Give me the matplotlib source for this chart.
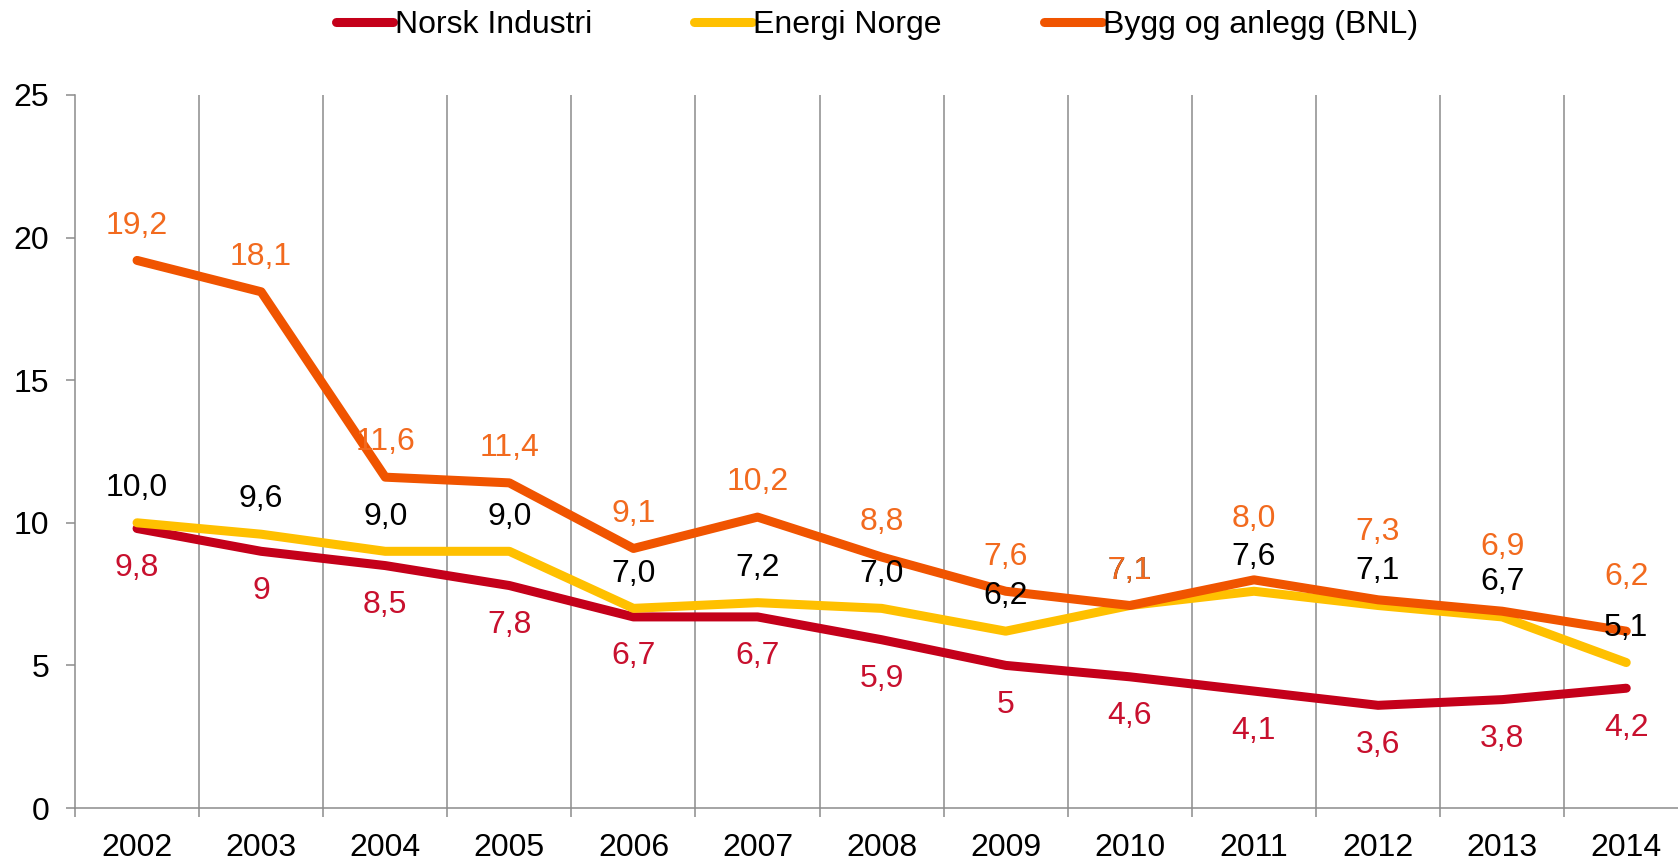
import numpy as np
import matplotlib
matplotlib.use("Agg")
import matplotlib.pyplot as plt

plt.rcParams['font.family'] = ['Liberation Sans', 'DejaVu Sans']

# Data
years = ["2002", "2003", "2004", "2005", "2006", "2007", "2008",
         "2009", "2010", "2011", "2012", "2013", "2014"]
norsk_industri = [9.8, 9.0, 8.5, 7.8, 6.7, 6.7, 5.9, 5.0, 4.6, 4.1, 3.6, 3.8, 4.2]
norsk_labels = ["9,8", "9", "8,5", "7,8", "6,7", "6,7", "5,9", "5", "4,6", "4,1", "3,6", "3,8", "4,2"]
energi_norge = [10.0, 9.6, 9.0, 9.0, 7.0, 7.2, 7.0, 6.2, 7.1, 7.6, 7.1, 6.7, 5.1]
energi_labels = ["10,0", "9,6", "9,0", "9,0", "7,0", "7,2", "7,0", "6,2", "7,1", "7,6", "7,1", "6,7", "5,1"]
bnl = [19.2, 18.1, 11.6, 11.4, 9.1, 10.2, 8.8, 7.6, 7.1, 8.0, 7.3, 6.9, 6.2]
bnl_labels = ["19,2", "18,1", "11,6", "11,4", "9,1", "10,2", "8,8", "7,6", "7,1", "8,0", "7,3", "6,9", "6,2"]

# label offsets in points (placement of the data labels)
bnl_offsets = [25, 25, 25, 25, 25, 25, 25, 25, 25, 44, 49, 46, 39]

RED = '#C4001A'
YELLOW = '#FFC000'
ORANGE = '#F05400'
GRID = '#8C8C8C'
FS = 23      # data labels
FS_AX = 23   # ticks and legend

fig = plt.figure(figsize=(16.78, 8.6), dpi=100)
ax = fig.add_axes([75 / 1678, 52 / 860, 13 * 124.1 / 1678, 713 / 860])

x = np.arange(len(years))
l1, = ax.plot(x, norsk_industri, color=RED, lw=6.5, solid_capstyle='round', zorder=3,
              label="Norsk Industri")
l2, = ax.plot(x, energi_norge, color=YELLOW, lw=6.5, solid_capstyle='round', zorder=4,
              label="Energi Norge")
l3, = ax.plot(x, bnl, color=ORANGE, lw=6.5, solid_capstyle='round', zorder=5,
              label="Bygg og anlegg (BNL)")

for i in range(len(years)):
    ax.annotate(norsk_labels[i], (x[i], norsk_industri[i]), xytext=(0, -28.5),
                textcoords='offset points', ha='center', va='center',
                fontsize=FS, color='#C8102E', zorder=6)
    ax.annotate(energi_labels[i], (x[i], energi_norge[i]), xytext=(0, 25),
                textcoords='offset points', ha='center', va='center',
                fontsize=FS, color='black', zorder=6)
    ax.annotate(bnl_labels[i], (x[i], bnl[i]), xytext=(0, bnl_offsets[i]),
                textcoords='offset points', ha='center', va='center',
                fontsize=FS, color='#F26A1E', zorder=7)

ax.set_xlim(-0.5, 12.5)
ax.set_ylim(0, 25)
ax.set_yticks([0, 5, 10, 15, 20, 25])

# category boundaries: ticks and vertical gridlines
bounds = np.arange(-0.5, 13.0, 1.0)
ax.set_xticks(bounds)
ax.set_xticklabels([])
ax.set_xticks(x, minor=True)
ax.set_xticklabels(years, minor=True)
ax.tick_params(axis='x', which='minor', length=0, pad=18, labelsize=FS_AX)
ax.tick_params(axis='x', which='major', direction='out', length=6.5, width=1.1, color=GRID)
ax.tick_params(axis='y', direction='out', length=6.5, width=1.1, color=GRID, pad=12,
               labelsize=FS_AX)
for b in bounds[1:-1]:
    ax.axvline(b, color=GRID, lw=1.1, zorder=1)

for s in ['top', 'right']:
    ax.spines[s].set_visible(False)
for s in ['left', 'bottom']:
    ax.spines[s].set_color(GRID)
    ax.spines[s].set_linewidth(1.1)

fig.legend(handles=[l1, l2, l3], loc='center', bbox_to_anchor=(877 / 1678, 1 - 25 / 860),
           ncol=3, frameon=False, fontsize=FS_AX, handlelength=1.8, handletextpad=0.05,
           columnspacing=3.2)

fig.savefig("out.png", dpi=100)
